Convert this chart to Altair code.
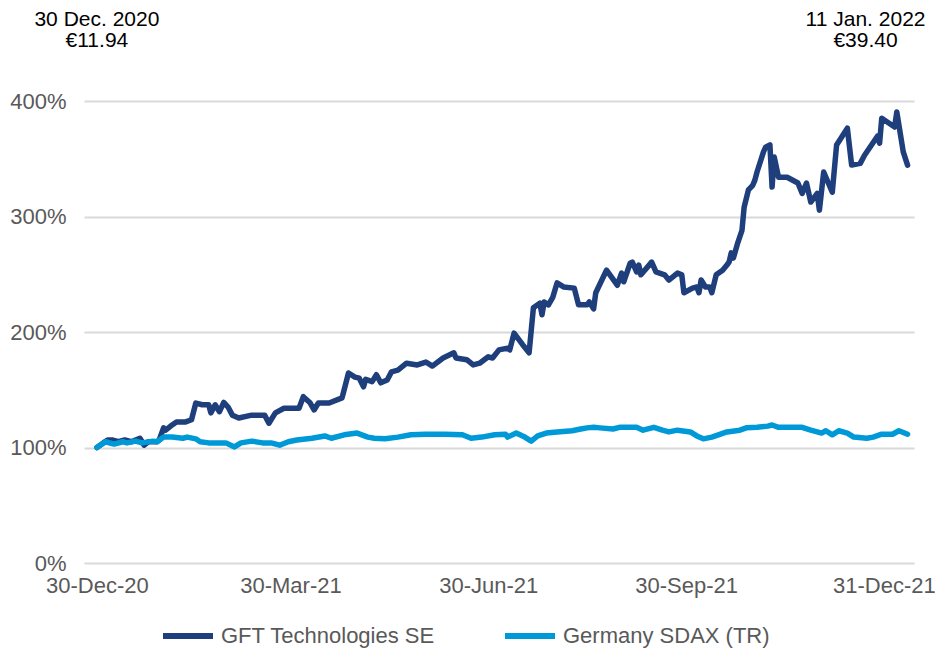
import altair as alt
import pandas as pd

# ---- data ----
series_names = ["GFT Technologies SE", "Germany SDAX (TR)"]
series_colors = ["#1F3E7C", "#0099D8"]

gft_dates = [
    "2020-12-30", "2021-01-02", "2021-01-04", "2021-01-06", "2021-01-09", "2021-01-12", "2021-01-15",
    "2021-01-19", "2021-01-21", "2021-01-23", "2021-01-27", "2021-01-28", "2021-01-30", "2021-01-31",
    "2021-02-03", "2021-02-05", "2021-02-09", "2021-02-12", "2021-02-14", "2021-02-17", "2021-02-20",
    "2021-02-21", "2021-02-23", "2021-02-25", "2021-02-27", "2021-03-01", "2021-03-03", "2021-03-06",
    "2021-03-12", "2021-03-18", "2021-03-20", "2021-03-23", "2021-03-27", "2021-04-03", "2021-04-05",
    "2021-04-08", "2021-04-10", "2021-04-12", "2021-04-17", "2021-04-23", "2021-04-24", "2021-04-26",
    "2021-04-29", "2021-05-01", "2021-05-03", "2021-05-04", "2021-05-07", "2021-05-09", "2021-05-11",
    "2021-05-14", "2021-05-16", "2021-05-19", "2021-05-23", "2021-05-28", "2021-06-01", "2021-06-04",
    "2021-06-09", "2021-06-14", "2021-06-15", "2021-06-20", "2021-06-23", "2021-06-26", "2021-06-30",
    "2021-07-02", "2021-07-05", "2021-07-09", "2021-07-10", "2021-07-12", "2021-07-16", "2021-07-19",
    "2021-07-21", "2021-07-24", "2021-07-25", "2021-07-26", "2021-07-28", "2021-07-30", "2021-08-01",
    "2021-08-04", "2021-08-09", "2021-08-11", "2021-08-15", "2021-08-16", "2021-08-18", "2021-08-19",
    "2021-08-24", "2021-08-29", "2021-08-31", "2021-09-01", "2021-09-04", "2021-09-05", "2021-09-07",
    "2021-09-08", "2021-09-09", "2021-09-14", "2021-09-16", "2021-09-20", "2021-09-22", "2021-09-26",
    "2021-09-28", "2021-09-29", "2021-10-03", "2021-10-05", "2021-10-06", "2021-10-07", "2021-10-09",
    "2021-10-11", "2021-10-12", "2021-10-14", "2021-10-17", "2021-10-19", "2021-10-20", "2021-10-21",
    "2021-10-22", "2021-10-24", "2021-10-26", "2021-10-27", "2021-10-29", "2021-10-31", "2021-11-01",
    "2021-11-02", "2021-11-05", "2021-11-06", "2021-11-08", "2021-11-09", "2021-11-10", "2021-11-12",
    "2021-11-16", "2021-11-21", "2021-11-23", "2021-11-25", "2021-11-27", "2021-11-30", "2021-12-01",
    "2021-12-03", "2021-12-07", "2021-12-09", "2021-12-14", "2021-12-16", "2021-12-20", "2021-12-22",
    "2021-12-28", "2021-12-29", "2021-12-30", "2022-01-05", "2022-01-06", "2022-01-09", "2022-01-11",
]
gft_values = [
    100, 104, 106.5, 106.5, 105, 106.5, 105,
    108, 102, 105, 105, 106.5, 117, 115,
    119.5, 122, 122, 124, 138.5, 137, 137,
    130, 137, 131, 139, 135, 128, 125.5,
    128, 128, 121, 130, 134, 134, 144,
    139, 132.5, 138.5, 138.5, 143, 150, 164.5,
    161, 160, 152.5, 159, 157, 163, 156,
    158.5, 165.5, 167, 173, 171.5, 174, 170.5,
    177.5, 182, 177.5, 176, 171.5, 173, 178.5,
    177.5, 184.5, 186, 184.5, 199, 189, 182,
    221, 225, 215, 226, 223.5, 230, 242.5,
    239, 238, 223.5, 223.5, 226, 220, 234,
    253.5, 240.5, 251, 243.5, 259.5, 260.5, 252,
    258, 249.5, 260.5, 252, 249.5, 245, 251,
    249.5, 234, 238, 239, 234, 245, 239,
    239, 234, 249.5, 253.5, 258, 260.5, 268.5,
    264, 277, 288, 308, 323, 327, 331.5,
    338.5, 356, 360, 362, 325.5, 351.5, 334,
    334, 329, 320, 329, 312.5, 320, 305.5,
    338.5, 321, 362, 376.5, 344.5, 346, 353,
    369.5, 363.5, 385, 377.5, 390.5, 356, 344.5,
]

sdax_dates = [
    "2020-12-30", "2021-01-03", "2021-01-07", "2021-01-11", "2021-01-13", "2021-01-17", "2021-01-20",
    "2021-01-25", "2021-01-27", "2021-01-30", "2021-02-03", "2021-02-08", "2021-02-10", "2021-02-14",
    "2021-02-16", "2021-02-20", "2021-02-24", "2021-02-28", "2021-03-04", "2021-03-07", "2021-03-12",
    "2021-03-17", "2021-03-21", "2021-03-25", "2021-03-29", "2021-04-02", "2021-04-09", "2021-04-15",
    "2021-04-18", "2021-04-24", "2021-04-30", "2021-05-05", "2021-05-08", "2021-05-13", "2021-05-19",
    "2021-05-25", "2021-06-01", "2021-06-10", "2021-06-18", "2021-06-22", "2021-06-27", "2021-07-03",
    "2021-07-08", "2021-07-09", "2021-07-13", "2021-07-17", "2021-07-20", "2021-07-23", "2021-07-27",
    "2021-08-01", "2021-08-08", "2021-08-12", "2021-08-15", "2021-08-18", "2021-08-21", "2021-08-27",
    "2021-08-30", "2021-09-07", "2021-09-10", "2021-09-15", "2021-09-19", "2021-09-22", "2021-09-26",
    "2021-10-02", "2021-10-05", "2021-10-08", "2021-10-12", "2021-10-19", "2021-10-25", "2021-10-28",
    "2021-11-02", "2021-11-07", "2021-11-09", "2021-11-12", "2021-11-17", "2021-11-23", "2021-11-27",
    "2021-11-30", "2021-12-02", "2021-12-04", "2021-12-07", "2021-12-10", "2021-12-14", "2021-12-17",
    "2021-12-23", "2021-12-26", "2021-12-30", "2022-01-04", "2022-01-07", "2022-01-11",
]
sdax_values = [
    100, 105, 103, 105, 104, 105.5, 104,
    105.5, 105, 109, 109, 108, 109, 107.5,
    105, 104, 104, 104, 100.5, 104, 105.5,
    104, 104, 102, 105, 106.5, 108, 110,
    108, 111, 112.5, 109, 108, 107.5, 109,
    111, 111.5, 111.5, 111, 108, 109, 111,
    111.5, 109, 112.5, 109, 105.5, 110, 112.5,
    113.5, 114.5, 116, 117, 117.5, 117, 116,
    117.5, 117.5, 115, 117.5, 115, 113.5, 115,
    113.5, 110, 107.5, 109, 113.5, 115, 117,
    117.5, 118.5, 119.5, 117.5, 117.5, 117.5, 115,
    113.5, 112.5, 114.5, 111, 114.5, 112.5, 109,
    108, 109, 111.5, 111.5, 114.5, 111.5,
]

y_ticks = [0, 100, 200, 300, 400]
x_tick_dates = [(2020, 12, 30), (2021, 3, 30), (2021, 6, 30), (2021, 9, 30), (2021, 12, 31)]
x_domain = [(2020, 12, 24), (2022, 1, 14)]

ann_left = {"date": "2020-12-30", "line1": "30 Dec. 2020", "line2": "€11.94"}
ann_right = {"date": "2022-01-11", "line1": "11 Jan. 2022", "line2": "€39.40"}

# ---- tables ----
gft_df = pd.DataFrame({"date": gft_dates, "value": gft_values, "series": series_names[0]})
sdax_df = pd.DataFrame({"date": sdax_dates, "value": sdax_values, "series": series_names[1]})


def dt(t):
    return alt.DateTime(year=t[0], month=t[1], date=t[2], utc=True)


FONT = "Liberation Sans"
GREY = "#595959"

x_enc = alt.X(
    "date:T",
    scale=alt.Scale(type="utc", domain=[dt(d) for d in x_domain]),
    axis=alt.Axis(
        values=[dt(d) for d in x_tick_dates],
        labelExpr="utcFormat(datum.value, '%d-%b-%y')",
        grid=False,
        domain=False,
        ticks=False,
        labelFontSize=22,
        labelColor=GREY,
        labelFont=FONT,
        labelPadding=12,
        labelFlush=False,
        labelOverlap=False,
        title=None,
    ),
)
y_enc = alt.Y(
    "value:Q",
    scale=alt.Scale(domain=[0, 400], nice=False),
    axis=alt.Axis(
        values=y_ticks,
        labelExpr="datum.value + '%'",
        grid=True,
        gridColor="#D9D9D9",
        gridWidth=2,
        domain=False,
        ticks=False,
        labelFontSize=22,
        labelColor=GREY,
        labelFont=FONT,
        labelPadding=18,
        title=None,
    ),
)
color_enc = alt.Color(
    "series:N",
    scale=alt.Scale(domain=series_names, range=series_colors),
    legend=alt.Legend(
        title=None,
        orient="none",
        legendX=76,
        legendY=507,
        direction="horizontal",
        symbolType="stroke",
        symbolSize=2500,
        symbolStrokeWidth=6,
        labelFontSize=22,
        labelFont=FONT,
        labelColor=GREY,
        labelOffset=5,
        labelLimit=0,
        columnPadding=58,
    ),
)

line_props = dict(strokeWidth=5.5, strokeJoin="round", strokeCap="round")
gft_line = alt.Chart(gft_df).mark_line(**line_props).encode(x=x_enc, y=y_enc, color=color_enc)
sdax_line = alt.Chart(sdax_df).mark_line(**line_props).encode(x=x_enc, y=y_enc, color=color_enc)

txt_props = dict(fontSize=21, font=FONT, color="#000000", baseline="middle", align="center")
left_df = pd.DataFrame([ann_left])
right_df = pd.DataFrame([ann_right])
ann_l1 = alt.Chart(left_df).mark_text(**txt_props).encode(x=x_enc, y=alt.value(-81), text="line1:N")
ann_l2 = alt.Chart(left_df).mark_text(**txt_props).encode(x=x_enc, y=alt.value(-60), text="line2:N")
ann_r1 = alt.Chart(right_df).mark_text(dx=-42, **txt_props).encode(x=x_enc, y=alt.value(-81), text="line1:N")
ann_r2 = alt.Chart(right_df).mark_text(dx=-42, **txt_props).encode(x=x_enc, y=alt.value(-60), text="line2:N")

chart = (
    alt.layer(gft_line, sdax_line, ann_l1, ann_l2, ann_r1, ann_r2)
    .properties(
        width=830,
        height=462,
        autosize=alt.AutoSizeParams(type="none"),
        padding={"left": 76, "top": 93, "right": 21, "bottom": 92},
        background="white",
    )
    .configure_view(stroke=None)
)

chart.save("out.html", embed_options={"renderer": "svg", "actions": False})
